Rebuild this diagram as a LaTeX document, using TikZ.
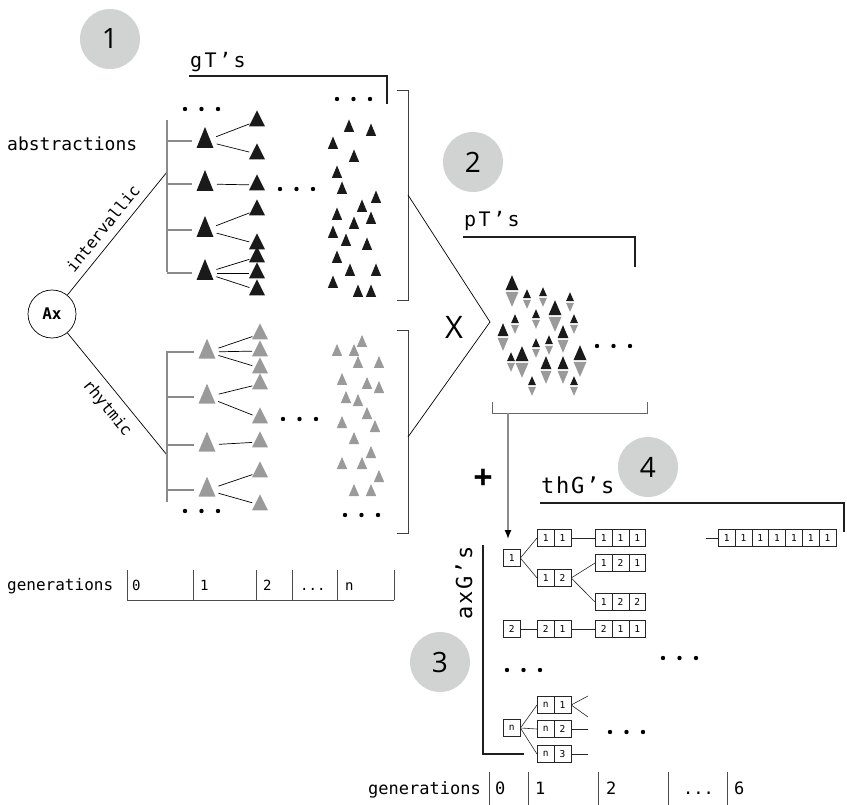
\documentclass[tikz,border=0pt]{standalone}
\usepackage{fontspec}
\setmainfont{Open Sans}
\newfontfamily\mono{DejaVu Sans Mono}
\newfontfamily\lblmono[LetterSpace=12]{DejaVu Sans Mono}
\newfontfamily\lblmonob[LetterSpace=8]{DejaVu Sans Mono}
\usetikzlibrary{arrows.meta}
\definecolor{circgray}{HTML}{D1D3D3}
\definecolor{trigray}{HTML}{9A9A9A}
\definecolor{bargray}{HTML}{8A8A8A}
\definecolor{triblack}{HTML}{1A1A1A}
\definecolor{heavyc}{HTML}{1E1E1E}
% triangle with centroid at (x,y)
\newcommand\tri[6]{%
  \coordinate (#1) at (#2,#3);
  \fill[#6] ({#2-#4/2},{#3+#5/3}) -- ({#2+#4/2},{#3+#5/3}) -- (#2,{#3-2*#5/3}) -- cycle;}
% black up / gray down pair, junction at (x,y)
\newcommand\ptri[4]{%
  \fill[triblack] ({#1-#3/2},{#2-0.8}) -- ({#1+#3/2},{#2-0.8}) -- (#1,{#2-0.8-#4}) -- cycle;
  \fill[trigray] ({#1-#3/2},{#2+0.8}) -- ({#1+#3/2},{#2+0.8}) -- (#1,{#2+0.8+#4}) -- cycle;}
\newcommand\threedots[2]{\foreach \k in {0,1,2}{\fill ({#1+\k*16.5},#2) circle (2.2pt);}}
\newcommand\cellrow[4]{%
  \foreach \v [count=\i] in {#4}{\node[cell, anchor=west] (#1-\i) at ({#2+(\i-1)*16.8},#3) {\v};}}
\tikzset{
  cell/.style={draw=black!85, line width=0.6pt, fill=white, minimum width=16.8pt, minimum height=16.8pt, inner sep=0pt, font=\mono\fontsize{9.5}{9.5}\selectfont},
  link/.style={draw=black!85, line width=0.6pt},
  tlink/.style={draw=black, line width=0.7pt, shorten <=12pt, shorten >=8pt},
  bar/.style={draw=bargray, line width=1.5pt},
  heavy/.style={draw=heavyc, line width=2pt},
  brk/.style={draw=black!75, line width=0.8pt},
  numc/.style={circle, fill=circgray, minimum size=60pt, inner sep=0pt, font=\fontsize{28}{28}\selectfont},
  ruler/.style={draw=black!70, line width=0.8pt},
  monolbl/.style={font=\mono\fontsize{#1}{#1}\selectfont, inner sep=0pt},
}
\begin{document}
\begin{tikzpicture}[x=1pt,y=-1pt]
\useasboundingbox (0,0) rectangle (847,805);

% numbered circles
\node[numc] (n1) at (110,39) {1};
\node[numc] (n2) at (473,162) {2};
\node[numc] (n3) at (440,662) {3};
\node[numc] (n4) at (648,467) {4};

% headings
\node[font=\lblmono\fontsize{20}{20}\selectfont, anchor=base west, inner sep=0pt] (gT) at (190,68) {gT’s};
\draw[heavy] (189,76) -| (387,104);
\node[font=\lblmono\fontsize{20}{20}\selectfont, anchor=base west, inner sep=0pt] (pT) at (464,227) {pT’s};
\draw[heavy] (463,237) -| (635,267);
\node[font=\lblmonob\fontsize{22}{22}\selectfont, anchor=base west, inner sep=0pt] (thG) at (541,493) {thG’s};
\draw[heavy] (540,503) -| (844,532);
\node[font=\lblmonob\fontsize{22}{22}\selectfont, anchor=base west, inner sep=0pt, rotate=90] (axG) at (472,620) {axG’s};
\draw[heavy] (483,545) |- (524,754);

\node[monolbl=18, anchor=base west] (abs) at (7,151) {abstractions};

% Ax and branches
\node[draw, circle, minimum size=48pt, inner sep=0pt, line width=0.7pt, font=\mono\bfseries\fontsize{16}{16}\selectfont] (Ax) at (52,314) {Ax};
\coordinate (ubtop) at (167,120);
\coordinate (ubbot) at (167,272);
\coordinate (ubjoin) at (167,172);
\coordinate (lbtop) at (167,351);
\coordinate (lbbot) at (167,502);
\coordinate (lbjoin) at (167,455);
\draw[line width=0.7pt] (Ax) -- node[sloped, above=8pt, pos=0.47, monolbl=16] (intv) {intervallic} (ubjoin);
\draw[line width=0.7pt] (Ax) -- node[sloped, below=9pt, pos=0.53, monolbl=16] (rhy) {rhytmic} (lbjoin);
\draw[bar] (ubtop) -- (ubbot);
\draw[bar] (lbtop) -- (lbbot);

% upper tree (black)
\tri{P1}{205}{141}{17}{21}{triblack}
\tri{P2}{205}{184}{17}{21}{triblack}
\tri{P3}{205}{230}{17}{21}{triblack}
\tri{P4}{205}{273}{17}{21}{triblack}
\tri{C11}{257}{121}{16}{16}{triblack}
\tri{C12}{257}{154}{16}{16}{triblack}
\tri{C21}{257}{185}{16}{16}{triblack}
\tri{C31}{257}{210}{16}{16}{triblack}
\tri{C32}{257}{244}{16}{16}{triblack}
\tri{C41}{257}{257}{16}{16}{triblack}
\tri{C42}{257}{273}{16}{16}{triblack}
\tri{C43}{257}{290}{16}{16}{triblack}
\foreach \p in {P1,P2,P3,P4}{\draw[bar, line width=1.2pt, shorten >=13pt] (\p -| ubtop) -- (\p);}
\draw[tlink] (P1) -- (C11); \draw[tlink] (P1) -- (C12);
\draw[tlink] (P2) -- (C21);
\draw[tlink] (P3) -- (C31); \draw[tlink] (P3) -- (C32);
\draw[tlink] (P4) -- (C41); \draw[tlink] (P4) -- (C42); \draw[tlink] (P4) -- (C43);

% lower tree (gray)
\tri{Q1}{207}{352}{17}{20}{trigray}
\tri{Q2}{207}{397}{17}{20}{trigray}
\tri{Q3}{207}{445}{17}{20}{trigray}
\tri{Q4}{207}{490}{17}{20}{trigray}
\tri{D11}{260}{334}{16}{16}{trigray}
\tri{D12}{260}{351}{16}{16}{trigray}
\tri{D13}{260}{368}{16}{16}{trigray}
\tri{D21}{260}{384}{16}{16}{trigray}
\tri{D22}{260}{418}{16}{16}{trigray}
\tri{D31}{260}{442}{16}{16}{trigray}
\tri{D41}{260}{472}{16}{16}{trigray}
\tri{D42}{260}{505}{16}{16}{trigray}
\foreach \p in {Q1,Q2,Q3,Q4}{\draw[bar, line width=1.2pt, shorten >=13pt] (\p -| lbtop) -- (\p);}
\draw[tlink] (Q1) -- (D11); \draw[tlink] (Q1) -- (D12); \draw[tlink] (Q1) -- (D13);
\draw[tlink] (Q2) -- (D21); \draw[tlink] (Q2) -- (D22);
\draw[tlink] (Q3) -- (D31);
\draw[tlink] (Q4) -- (D41); \draw[tlink] (Q4) -- (D42);

% scatter
\foreach \px/\py in {349/126,371/130,333/143,354/156,337/172,342/188,376/197,362/206,337/214,354/223,371/218,333/232,346/240,367/244,337/257,350/270,376/270,333/282,358/291,371/291}
  {\fill[triblack] ({\px-5.2},{\py+6}) -- ({\px+5.2},{\py+6}) -- (\px,{\py-6.5}) -- cycle;}
\foreach \px/\py in {337/350,354/350,362/341,358/362,379/362,342/379,367/383,379/387,346/397,358/400,367/413,342/422,375/426,354/438,371/452,342/463,362/463,379/476,354/490,371/490}
  {\fill[trigray] ({\px-5.2},{\py+6}) -- ({\px+5.2},{\py+6}) -- (\px,{\py-6}) -- cycle;}

% dots
\threedots{185}{109}
\threedots{280}{189}
\threedots{337}{99}
\threedots{283}{419}
\threedots{185}{511}
\threedots{345}{515}
\threedots{597}{346}
\threedots{507}{670}
\threedots{663}{658}
\threedots{610}{732}

% brackets and X
\draw[brk] (397,90) -- (408,90) -- (408,300) -- (397,300);
\draw[brk] (397,330) -- (408,330) -- (408,533) -- (397,533);
\coordinate (ubrk) at (408,195);
\coordinate (lbrk) at (408,437);
\coordinate (apex) at (490,322);
\draw[line width=0.7pt] (ubrk) -- (apex) -- (lbrk);
\node[font=\fontsize{31}{31}\selectfont, inner sep=0pt] (X) at (454,327) {X};

% pT's cluster
\ptri{512}{291}{13}{15}
\ptri{527}{299}{8}{9}
\ptri{543}{297}{8}{9}
\ptri{555}{316}{13}{15}
\ptri{570}{302}{8}{9}
\ptri{515}{324}{8}{9}
\ptri{536}{319}{8}{9}
\ptri{574}{324}{8}{9}
\ptri{503}{337}{11}{13}
\ptri{563}{339}{11}{13}
\ptri{536}{348}{8}{9}
\ptri{549}{345}{8}{9}
\ptri{522}{362}{13}{15}
\ptri{511}{362}{8}{9}
\ptri{580}{361}{13}{15}
\ptri{546}{370}{11}{13}
\ptri{563}{370}{11}{13}
\ptri{532}{386}{8}{9}
\ptri{574}{386}{8}{9}
\draw[draw=black!60, line width=1pt] (492,402) -- (492,413) -- (647,413) -- (647,402);
\coordinate (pTb) at (508,413);
\coordinate (arrend) at (508,539);
\draw[draw=black!45, line width=1.3pt, -{Latex[length=9pt,width=7pt,color=black]}] (pTb) -- (arrend);
\node[font=\bfseries\fontsize{34}{34}\selectfont, inner sep=0pt] (plus) at (483,479) {+};

% grid of generations
\cellrow{b1}{503}{558}{1}
\cellrow{b11}{537}{538}{1,1}
\cellrow{b111}{595}{538}{1,1,1}
\cellrow{b12}{537}{578}{1,2}
\cellrow{b121}{595}{563}{1,2,1}
\cellrow{b122}{595}{602}{1,2,2}
\cellrow{b7}{718}{538}{1,1,1,1,1,1,1}
\cellrow{b2}{503}{629}{2}
\cellrow{b21}{537}{629}{2,1}
\cellrow{b211}{595}{629}{2,1,1}
\cellrow{bn}{503}{728}{n}
\cellrow{bn1}{537}{705}{n,1}
\cellrow{bn2}{537}{729}{n,2}
\cellrow{bn3}{537}{754}{n,3}
\draw[link] (b1-1.east) -- (b11-1.west);
\draw[link] (b1-1.east) -- (b12-1.west);
\draw[link] (b11-2.east) -- (b111-1.west);
\draw[link] (b12-2.east) -- (b121-1.west);
\draw[link] (b12-2.east) -- (b122-1.west);
\draw[link] (b2-1.east) -- (b21-1.west);
\draw[link] (b21-2.east) -- (b211-1.west);
\draw[link] (bn-1.east) -- (bn1-1.west);
\draw[link] (bn-1.east) -- (bn2-1.west);
\draw[link] (bn-1.east) -- (bn3-1.west);
\coordinate (e7) at (706,538);
\draw[link] (e7) -- (b7-1.west);
\coordinate (en1a) at (588,696);
\coordinate (en1b) at (588,717);
\coordinate (en2) at (588,729);
\coordinate (en3) at (588,754);
\draw[link] (bn1-2.east) -- (en1a);
\draw[link] (bn1-2.east) -- (en1b);
\draw[link] (bn2-2.east) -- (en2);
\draw[link] (bn3-2.east) -- (en3);

% top ruler
\node[monolbl=16, anchor=base west] (gen1) at (7,590) {generations};
\foreach \tx in {127,193,256,292,337,394}{\draw[ruler] (\tx,570) -- (\tx,600);}
\draw[ruler] (127,600) -- (394,600);
\node[monolbl=14, anchor=base west] (g10) at (132,590) {0};
\node[monolbl=14, anchor=base west] (g11) at (200,590) {1};
\node[monolbl=14, anchor=base west] (g12) at (263,590) {2};
\node[monolbl=14, anchor=base west] (g13) at (300,590) {...};
\node[monolbl=14, anchor=base west] (g14) at (345,590) {n};

% bottom ruler
\node[monolbl=17, anchor=base west] (gen2) at (368,794) {generations};
\foreach \tx in {489,528,598,668,727}{\draw[ruler] (\tx,772) -- (\tx,805);}
\node[monolbl=17, anchor=base west] (g20) at (495,794) {0};
\node[monolbl=17, anchor=base west] (g21) at (535,794) {1};
\node[monolbl=17, anchor=base west] (g22) at (606,794) {2};
\node[monolbl=17, anchor=base west] (g23) at (683,794) {...};
\node[monolbl=17, anchor=base west] (g24) at (734,794) {6};
\end{tikzpicture}
\end{document}
